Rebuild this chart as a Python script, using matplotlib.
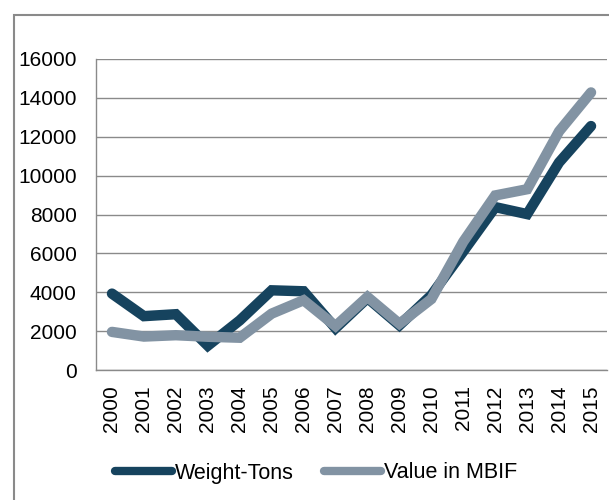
import matplotlib.pyplot as plt
from matplotlib.patches import Rectangle

years = [str(y) for y in range(2000, 2016)]
weight_tons = [3930, 2770, 2870, 1250, 2550, 4100, 4050, 2150, 3700, 2300,
               3850, 6100, 8380, 8020, 10680, 12550]
value_mbif = [1960, 1720, 1790, 1710, 1660, 2900, 3590, 2260, 3760, 2380,
              3650, 6600, 8980, 9300, 12280, 14280]

dark = '#16435e'
grey = '#8293a3'
rule = '#8a8a8a'

plt.rcParams['font.family'] = ['Liberation Sans', 'DejaVu Sans']

fig = plt.figure(figsize=(6.09, 5.0), dpi=100)
ax = fig.add_axes([96 / 609, 1 - 370 / 500, 511 / 609, 311 / 500])

x = range(len(years))
ax.plot(x, weight_tons, color=dark, lw=7.5, solid_capstyle='round',
        solid_joinstyle='miter', label='Weight-Tons', zorder=3)
ax.plot(x, value_mbif, color=grey, lw=7.5, solid_capstyle='round',
        solid_joinstyle='miter', label='Value in MBIF', zorder=4)

ax.set_xlim(-0.5, len(years) - 0.5)
ax.set_ylim(0, 16000)
ax.set_yticks(range(0, 16001, 2000))
ax.set_xticks(list(x))
ax.set_xticklabels(years, rotation=90)
ax.tick_params(axis='both', length=0, labelsize=15, colors='black')
ax.tick_params(axis='y', pad=14)
ax.tick_params(axis='x', pad=11)
ax.yaxis.grid(True, color=rule, lw=1.0)
ax.set_axisbelow(True)
for side in ('top', 'right'):
    ax.spines[side].set_visible(False)
for side in ('left', 'bottom'):
    ax.spines[side].set_color(rule)
    ax.spines[side].set_linewidth(1.0)

leg = fig.legend(loc='center', bbox_to_anchor=(316 / 609, 1 - 473 / 500),
                 ncol=2, frameon=False, fontsize=15.5, handlelength=2.65,
                 handletextpad=0.14, columnspacing=1.4)
for line in leg.get_lines():
    line.set_linewidth(6)

fig.patches.append(Rectangle((13.5 / 609, -0.1), 1.2, 1.1 - 15 / 500,
                             transform=fig.transFigure, fill=False,
                             edgecolor=rule, lw=1.5))

fig.savefig('out.png', dpi=100)
